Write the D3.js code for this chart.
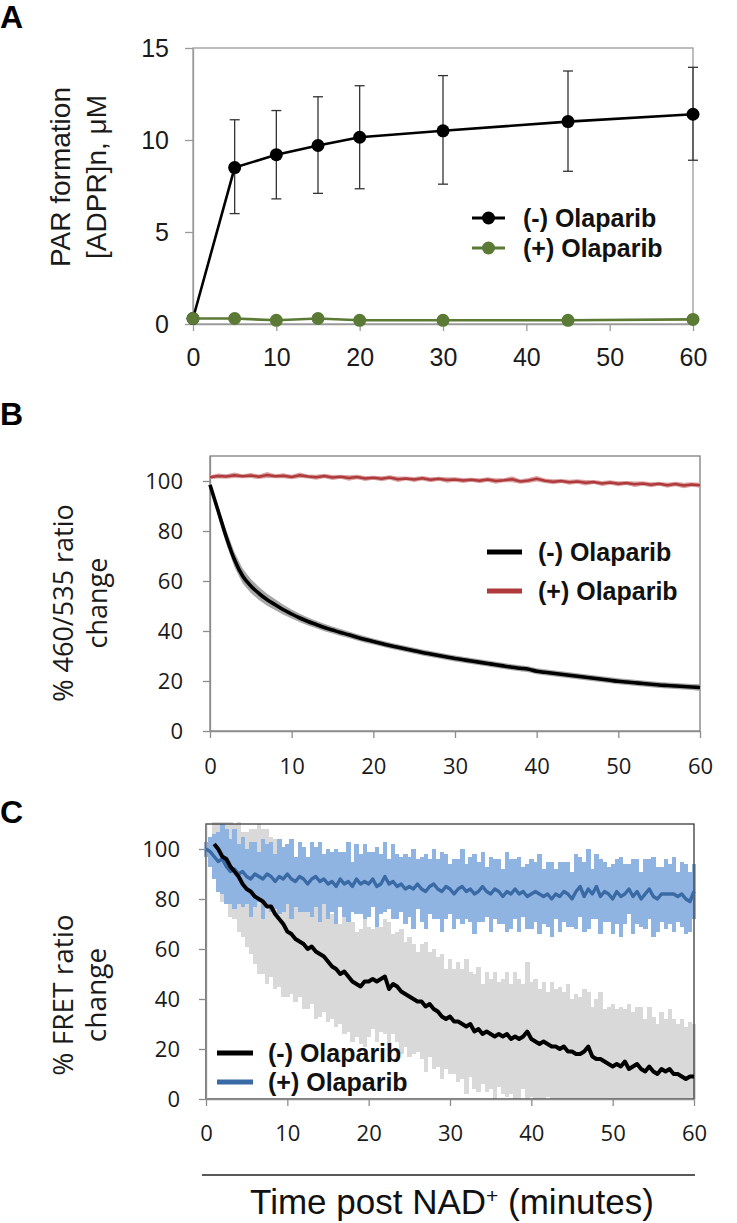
<!DOCTYPE html>
<html lang="en">
<head>
<meta charset="UTF-8">
<title>PAR formation and FRET ratio</title>
<script src="https://d3js.org/d3.v7.min.js"></script>
<style>
    * { margin: 0; padding: 0; box-sizing: border-box; }
    body { background: #fff; }
    svg { display: block; }
</style>
</head>
<body>
<div id="chart"></div>
<script>
    // ---- panel A : PAR formation ----
    const timeA = [0, 5, 10, 15, 20, 30, 45, 60];
    const parMinus = [0.3, 8.5, 9.2, 9.7, 10.15, 10.5, 11.0, 11.4];
    const parMinusLow = [null, 6.0, 6.8, 7.1, 7.35, 7.6, 8.3, 8.9];
    const parMinusHigh = [null, 11.1, 11.6, 12.35, 12.95, 13.5, 13.75, 13.95];
    const parPlus = [0.3, 0.3, 0.2, 0.3, 0.2, 0.2, 0.2, 0.25];
    const ticksXA = [0, 10, 20, 30, 40, 50, 60];
    const ticksYA = [0, 5, 10, 15];

    // ---- panel B : 460/535 ratio, one value per minute ----
    const timeB = d3.range(0, 61);
    const ratioMinus = [98.5, 88, 77.5, 68.5, 62, 58, 55, 52.5, 50.5, 48.5,
        46.8, 45.2, 43.8, 42.6, 41.4, 40.4, 39.4, 38.5, 37.5, 36.6,
        35.8, 35.0, 34.2, 33.5, 32.8, 32.1, 31.4, 30.8, 30.2, 29.6,
        29.0, 28.5, 28.0, 27.5, 27.0, 26.5, 26.0, 25.5, 25.1, 24.7,
        23.9, 23.5, 23.1, 22.7, 22.3, 21.9, 21.5, 21.1, 20.7, 20.3,
        19.9, 19.6, 19.3, 19.0, 18.7, 18.4, 18.2, 18.0, 17.8, 17.6, 17.4];
    const ratioMinusErr = [1.0, 2.0, 2.8, 3.0, 3.0, 2.8, 2.6, 2.4, 2.2, 2.0,
        1.8, 1.7, 1.6, 1.5, 1.5, 1.4, 1.4, 1.3, 1.3, 1.3,
        1.2, 1.2, 1.2, 1.2, 1.2, 1.2, 1.2, 1.2, 1.2, 1.2,
        1.2, 1.2, 1.2, 1.2, 1.2, 1.2, 1.2, 1.2, 1.2, 1.2,
        1.2, 1.2, 1.2, 1.2, 1.2, 1.2, 1.2, 1.2, 1.2, 1.2,
        1.2, 1.2, 1.2, 1.2, 1.2, 1.2, 1.2, 1.2, 1.2, 1.2, 1.4];
    const ratioPlus = [101.5, 102.0, 101.8, 102.3, 101.9, 102.2, 101.7, 102.4, 101.9, 102.1,
        101.6, 102.3, 101.8, 101.5, 102.0, 101.4, 101.7, 101.2, 101.6, 101.0,
        101.3, 100.9, 101.4, 100.7, 101.0, 100.6, 101.1, 100.5, 100.9, 100.4,
        100.6, 100.2, 100.5, 100.1, 100.6, 100.0, 100.3, 100.7, 99.8, 100.2,
        100.9, 100.1, 99.7, 100.0, 99.5, 99.8, 99.3, 99.6, 99.0, 99.4,
        98.9, 99.2, 98.7, 99.0, 98.5, 98.9, 98.3, 98.8, 98.2, 98.6, 98.3];
    const ratioPlusErr = [0.8, 1.0, 0.9, 1.1, 0.8, 1.0, 0.9, 1.2, 0.8, 1.0,
        0.9, 1.1, 0.8, 1.0, 0.9, 1.0, 0.8, 1.1, 0.9, 1.0,
        0.8, 1.0, 0.9, 1.1, 0.8, 1.0, 0.9, 1.0, 0.8, 1.1,
        0.9, 1.0, 0.8, 1.0, 0.9, 1.1, 0.8, 1.2, 0.9, 1.0,
        1.1, 0.9, 1.0, 0.8, 1.0, 0.9, 1.1, 0.8, 1.0, 0.9,
        1.0, 0.8, 1.1, 0.9, 1.0, 0.8, 1.0, 0.9, 1.1, 0.9, 1.0];
    const ticksXB = [0, 10, 20, 30, 40, 50, 60];
    const ticksYB = [0, 20, 40, 60, 80, 100];

    // ---- panel C : FRET ratio, every half minute ----
    const timeCMinus = d3.range(1, 60.25, 0.5);
    const fretMinus = [102, 100, 97, 96, 93, 91, 89, 86, 84, 83,
        81, 80, 79, 77, 77, 74, 72, 70, 67, 66,
        64, 63, 62, 60, 61, 59, 58, 57, 55, 53,
        52, 50, 51, 49, 47, 46, 45, 47, 47, 48,
        47, 48, 49, 44, 46, 45, 43, 42, 41, 40,
        39, 39, 37, 38, 36, 35, 33, 32, 33, 31,
        31, 30, 29, 30, 27, 28, 26, 27, 26, 25,
        26, 25, 26, 24, 25, 24, 25, 27, 24, 23,
        22, 23, 22, 21, 21, 20, 21, 19, 19, 18,
        18, 19, 21, 17, 16, 16, 15, 14, 13, 14,
        13, 15, 12, 13, 14, 12, 11, 13, 11, 10,
        12, 11, 12, 10, 10, 9, 8, 9, 9];
    const fretMinusSd = [14, 16, 18, 17, 20, 19, 22, 21, 23, 25,
        27, 30, 29, 31, 28, 30, 27, 29, 26, 24,
        25, 22, 26, 24, 23, 27, 25, 22, 24, 21,
        23, 20, 25, 22, 24, 21, 23, 26, 22, 20,
        24, 21, 23, 27, 20, 22, 25, 21, 24, 22,
        20, 23, 26, 21, 24, 22, 25, 20, 23, 21,
        24, 22, 27, 21, 23, 25, 20, 24, 22, 26,
        21, 23, 25, 22, 26, 24, 21, 28, 23, 25,
        22, 24, 21, 26, 23, 25, 22, 27, 21, 24,
        23, 25, 22, 20, 24, 27, 21, 23, 25, 22,
        24, 21, 26, 22, 23, 25, 21, 24, 22, 20,
        23, 21, 24, 22, 20, 23, 21, 22, 21];
    const timeCPlus = d3.range(0, 60.25, 0.5);
    const fretPlus = [100, 99, 97, 95, 96, 93, 91, 92, 90, 91,
        89, 88, 90, 89, 88, 90, 89, 87, 89, 88,
        90, 88, 87, 89, 88, 86, 88, 89, 87, 88,
        86, 87, 85, 88, 86, 87, 85, 88, 86, 87,
        86, 88, 85, 86, 89, 86, 87, 85, 86, 84,
        85, 84, 86, 84, 83, 85, 86, 84, 83, 85,
        84, 82, 84, 85, 83, 84, 82, 83, 85, 83,
        82, 84, 83, 81, 83, 82, 84, 82, 83, 81,
        82, 83, 82, 81, 82, 80, 82, 81, 83, 82,
        80, 83, 85, 81, 84, 82, 85, 81, 83, 82,
        80, 83, 81, 82, 84, 81, 83, 80, 82, 84,
        81, 80, 82, 82, 82, 82, 81, 82, 80, 79, 83];
    const fretPlusSd = [3, 6, 9, 12, 14, 15, 13, 16, 12, 14,
        11, 15, 13, 10, 16, 12, 14, 11, 15, 13,
        12, 16, 10, 14, 13, 11, 15, 12, 16, 10,
        14, 12, 15, 11, 13, 16, 10, 14, 12, 15,
        13, 11, 16, 12, 14, 10, 15, 13, 11, 14,
        12, 16, 10, 13, 15, 11, 14, 12, 16, 13,
        10, 14, 12, 15, 11, 13, 16, 12, 14, 10,
        15, 12, 13, 11, 16, 14, 12, 15, 10, 13,
        14, 12, 16, 11, 13, 15, 10, 14, 12, 13,
        11, 15, 12, 14, 16, 10, 13, 15, 12, 11,
        14, 13, 16, 12, 10, 15, 13, 11, 14, 12,
        16, 13, 11, 14, 12, 15, 10, 13, 14, 12, 11];
    const ticksXC = [0, 10, 20, 30, 40, 50, 60];
    const ticksYC = [0, 20, 40, 60, 80, 100];

    const seriesNames = ["(-) Olaparib", "(+) Olaparib"];

    const ARIAL = "'Liberation Sans', Arial, Helvetica, sans-serif";
    const CALI = "'Open Sans', 'DejaVu Sans', sans-serif";

    const svg = d3.select("#chart")
        .append("svg")
        .attr("width", 737)
        .attr("height", 1223);

    function styleAxis(g, font, size, color) {
        g.attr("font-family", font).attr("font-size", size);
        g.select(".domain").attr("stroke", color).attr("stroke-width", 1.3);
        g.selectAll(".tick line").attr("stroke", color).attr("stroke-width", 1.3);
        g.selectAll(".tick text").attr("fill", "#1a1a1a");
    }

    // panel letters
    [["A", 28], ["B", 425], ["C", 823]].forEach(([t, y]) => {
        svg.append("text")
            .attr("x", 0).attr("y", y)
            .style("font-family", ARIAL)
            .style("font-size", "32px")
            .style("font-weight", "bold")
            .text(t);
    });

    // =============== A ===============
    const xA = d3.scaleLinear().domain([0, 60]).range([193, 693]);
    const yA = d3.scaleLinear().domain([0, 15]).range([324, 48]);

    svg.append("rect")
        .attr("x", xA(0)).attr("y", yA(15))
        .attr("width", xA(60) - xA(0)).attr("height", yA(0) - yA(15))
        .attr("fill", "none").attr("stroke", "#9a9a9a").attr("stroke-width", 1.3);

    svg.append("g")
        .attr("transform", `translate(0,${yA(0)})`)
        .call(d3.axisBottom(xA).tickValues(ticksXA).tickSize(7).tickPadding(17).tickSizeOuter(0))
        .call(g => styleAxis(g, ARIAL, 25, "#9a9a9a"));

    svg.append("g")
        .attr("transform", `translate(${xA(0)},0)`)
        .call(d3.axisLeft(yA).tickValues(ticksYA).tickSize(8).tickPadding(16).tickSizeOuter(0))
        .call(g => styleAxis(g, ARIAL, 25, "#9a9a9a"));

    const labelA = svg.append("text")
        .attr("transform", `translate(60,177) rotate(-90)`)
        .attr("text-anchor", "middle")
        .style("font-family", ARIAL)
        .style("font-size", "28px")
        .attr("fill", "#1a1a1a");
    labelA.append("tspan").attr("x", 0).attr("dy", "0.35em").text("PAR formation");
    labelA.append("tspan").attr("x", 0).attr("dy", "1.3em").text("[ADPR]n, μM");

    const dataA = timeA.map((t, i) => ({
        t, minus: parMinus[i], lo: parMinusLow[i], hi: parMinusHigh[i], plus: parPlus[i]
    }));

    const errA = svg.append("g").attr("stroke", "#333").attr("stroke-width", 1.3);
    dataA.filter(d => d.lo !== null).forEach(d => {
        errA.append("line").attr("x1", xA(d.t)).attr("x2", xA(d.t))
            .attr("y1", yA(d.lo)).attr("y2", yA(d.hi));
        errA.append("line").attr("x1", xA(d.t) - 5).attr("x2", xA(d.t) + 5)
            .attr("y1", yA(d.lo)).attr("y2", yA(d.lo));
        errA.append("line").attr("x1", xA(d.t) - 5).attr("x2", xA(d.t) + 5)
            .attr("y1", yA(d.hi)).attr("y2", yA(d.hi));
    });

    const green = "#5b7a35";

    svg.append("path")
        .datum(dataA)
        .attr("fill", "none").attr("stroke", "#000").attr("stroke-width", 2.6)
        .attr("d", d3.line().x(d => xA(d.t)).y(d => yA(d.minus)));
    svg.selectAll(".dotMinus")
        .data(dataA).join("circle")
        .attr("cx", d => xA(d.t)).attr("cy", d => yA(d.minus))
        .attr("r", 6.5).attr("fill", "#000");

    svg.append("path")
        .datum(dataA)
        .attr("fill", "none").attr("stroke", green).attr("stroke-width", 2.6)
        .attr("d", d3.line().x(d => xA(d.t)).y(d => yA(d.plus)));
    svg.selectAll(".dotPlus")
        .data(dataA).join("circle")
        .attr("cx", d => xA(d.t)).attr("cy", d => yA(d.plus))
        .attr("r", 6.5).attr("fill", green);

    const legA = svg.append("g");
    [["#000", 218], [green, 248]].forEach(([c, y], i) => {
        legA.append("line").attr("x1", 472).attr("x2", 505).attr("y1", y).attr("y2", y)
            .attr("stroke", c).attr("stroke-width", 3);
        legA.append("circle").attr("cx", 488.5).attr("cy", y).attr("r", 6.5).attr("fill", c);
        legA.append("text").attr("x", 523).attr("y", y).attr("dy", "0.36em")
            .style("font-family", ARIAL).style("font-size", "25px").style("font-weight", "bold")
            .attr("fill", "#111")
            .text(seriesNames[i]);
    });

    // =============== B ===============
    const xB = d3.scaleLinear().domain([0, 60]).range([210, 700]);
    const yB = d3.scaleLinear().domain([0, 110]).range([731, 456]);

    svg.append("rect")
        .attr("x", xB(0)).attr("y", yB(110))
        .attr("width", xB(60) - xB(0)).attr("height", yB(0) - yB(110))
        .attr("fill", "none").attr("stroke", "#7f7f7f").attr("stroke-width", 1.3);

    svg.append("g")
        .attr("transform", `translate(0,${yB(0)})`)
        .call(d3.axisBottom(xB).tickValues(ticksXB).tickSize(7).tickPadding(20).tickSizeOuter(0))
        .call(g => styleAxis(g, CALI, 22, "#8c8c8c"));

    svg.append("g")
        .attr("transform", `translate(${xB(0)},0)`)
        .call(d3.axisLeft(yB).tickValues(ticksYB).tickSize(7).tickPadding(20).tickSizeOuter(0))
        .call(g => styleAxis(g, CALI, 22, "#8c8c8c"));

    const labelB = svg.append("text")
        .attr("transform", `translate(64,603) rotate(-90)`)
        .attr("text-anchor", "middle")
        .style("font-family", CALI)
        .style("font-size", "27px")
        .attr("fill", "#1a1a1a");
    labelB.append("tspan").attr("x", 0).attr("dy", "0.35em").text("% 460/535 ratio");
    labelB.append("tspan").attr("x", 0).attr("dy", "1.25em").text("change");

    const dataB = timeB.map((t, i) => ({
        t, m: ratioMinus[i], me: ratioMinusErr[i], p: ratioPlus[i], pe: ratioPlusErr[i]
    }));

    svg.append("path")
        .datum(dataB)
        .attr("fill", "#d9a3a3")
        .attr("d", d3.area().x(d => xB(d.t)).y0(d => yB(d.p - d.pe)).y1(d => yB(d.p + d.pe)));
    svg.append("path")
        .datum(dataB)
        .attr("fill", "none").attr("stroke", "#b0393b").attr("stroke-width", 2.6)
        .attr("d", d3.line().x(d => xB(d.t)).y(d => yB(d.p)));

    svg.append("path")
        .datum(dataB)
        .attr("fill", "#a8a8a8")
        .attr("d", d3.area().x(d => xB(d.t)).y0(d => yB(d.m - d.me)).y1(d => yB(d.m + d.me)));
    svg.append("path")
        .datum(dataB)
        .attr("fill", "none").attr("stroke", "#000").attr("stroke-width", 3.6)
        .attr("d", d3.line().curve(d3.curveMonotoneX).x(d => xB(d.t)).y(d => yB(d.m)));

    const legB = svg.append("g");
    [["#000", 552], ["#b0393b", 591]].forEach(([c, y], i) => {
        legB.append("line").attr("x1", 487).attr("x2", 522).attr("y1", y).attr("y2", y)
            .attr("stroke", c).attr("stroke-width", 5);
        legB.append("text").attr("x", 538).attr("y", y).attr("dy", "0.36em")
            .style("font-family", ARIAL).style("font-size", "25px").style("font-weight", "bold")
            .attr("fill", "#111")
            .text(seriesNames[i]);
    });

    // =============== C ===============
    const xC = d3.scaleLinear().domain([0, 60]).range([206, 694]);
    const yC = d3.scaleLinear().domain([0, 110]).range([1099, 824]);
    const barW = xC(0.5) - xC(0);

    const minusC = timeCMinus.map((t, i) => ({ t, m: fretMinus[i], sd: fretMinusSd[i] }));
    const plusC = timeCPlus.map((t, i) => ({ t, m: fretPlus[i], sd: fretPlusSd[i] }));

    svg.append("g")
        .selectAll("rect")
        .data(minusC).join("rect")
        .attr("x", d => xC(d.t) - barW / 2)
        .attr("width", barW + 0.3)
        .attr("y", d => yC(Math.min(111, d.m + d.sd)))
        .attr("height", d => yC(Math.max(0, d.m - d.sd)) - yC(Math.min(111, d.m + d.sd)))
        .attr("fill", "#d9d9d9")
        .attr("shape-rendering", "crispEdges");

    svg.append("g")
        .selectAll("rect")
        .data(plusC).join("rect")
        .attr("x", d => xC(d.t) - barW / 2)
        .attr("width", barW + 0.3)
        .attr("y", d => yC(Math.min(110, d.m + d.sd)))
        .attr("height", d => yC(d.m - d.sd) - yC(Math.min(110, d.m + d.sd)))
        .attr("fill", "#8fb4e2")
        .attr("shape-rendering", "crispEdges");

    svg.append("rect")
        .attr("x", xC(0)).attr("y", yC(110))
        .attr("width", xC(60) - xC(0)).attr("height", yC(0) - yC(110))
        .attr("fill", "none").attr("stroke", "#3a3a3a").attr("stroke-width", 1.3);

    svg.append("g")
        .attr("transform", `translate(0,${yC(0)})`)
        .call(d3.axisBottom(xC).tickValues(ticksXC).tickSize(7).tickPadding(19).tickSizeOuter(0))
        .call(g => styleAxis(g, CALI, 22, "#8c8c8c"));

    svg.append("g")
        .attr("transform", `translate(${xC(0)},0)`)
        .call(d3.axisLeft(yC).tickValues(ticksYC).tickSize(7).tickPadding(19).tickSizeOuter(0))
        .call(g => styleAxis(g, CALI, 22, "#8c8c8c"));

    svg.append("path")
        .datum(plusC)
        .attr("fill", "none").attr("stroke", "#3a6aa5").attr("stroke-width", 3.4)
        .attr("stroke-linejoin", "round")
        .attr("d", d3.line().x(d => xC(d.t)).y(d => yC(d.m)));

    svg.append("path")
        .datum(minusC)
        .attr("fill", "none").attr("stroke", "#000").attr("stroke-width", 4)
        .attr("stroke-linejoin", "round")
        .attr("d", d3.line().x(d => xC(d.t)).y(d => yC(d.m)));

    const labelC = svg.append("text")
        .attr("transform", `translate(63,995) rotate(-90)`)
        .attr("text-anchor", "middle")
        .style("font-family", CALI)
        .style("font-size", "28px")
        .attr("fill", "#1a1a1a");
    labelC.append("tspan").attr("x", 0).attr("dy", "0.35em").text("% FRET ratio");
    labelC.append("tspan").attr("x", 0).attr("dy", "1.2em").text("change");

    const legC = svg.append("g");
    [["#000", 1053], ["#3a6aa5", 1082]].forEach(([c, y], i) => {
        legC.append("line").attr("x1", 217).attr("x2", 253).attr("y1", y).attr("y2", y)
            .attr("stroke", c).attr("stroke-width", 5);
        legC.append("text").attr("x", 268).attr("y", y).attr("dy", "0.36em")
            .style("font-family", ARIAL).style("font-size", "25px").style("font-weight", "bold")
            .attr("fill", "#111")
            .text(seriesNames[i]);
    });

    // shared x title
    svg.append("line")
        .attr("x1", 202).attr("x2", 695).attr("y1", 1175).attr("y2", 1175)
        .attr("stroke", "#222").attr("stroke-width", 1.5);

    const title = svg.append("text")
        .attr("x", 452).attr("y", 1214)
        .attr("text-anchor", "middle")
        .style("font-family", ARIAL)
        .style("font-size", "35px")
        .attr("fill", "#111");
    title.append("tspan").text("Time post NAD");
    title.append("tspan").attr("baseline-shift", "super").style("font-size", "21px").text("+");
    title.append("tspan").text(" (minutes)");
</script>
</body>
</html>
